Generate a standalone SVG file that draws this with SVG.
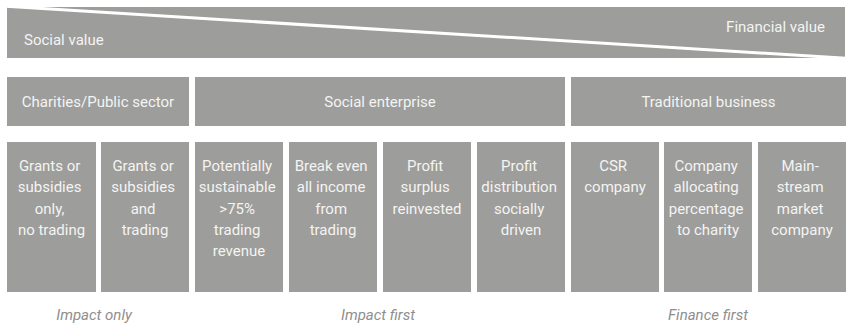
<svg xmlns="http://www.w3.org/2000/svg" width="848" height="326" viewBox="0 0 848 326">
  <style>
    .box { fill: #9d9d9b; }
    .lbl { font-family: Roboto, "Liberation Sans", Arial, sans-serif; font-size: 15px; fill: #f4f4f2; }
    .mid { text-anchor: middle; }
    .cap { font-family: Roboto, "Liberation Sans", Arial, sans-serif; font-size: 15px; font-style: italic; fill: #8e8e8e; text-anchor: middle; }
  </style>

  <!-- value scale: social value tapering into financial value -->
  <g id="value-scale">
    <rect class="box" x="7" y="7" width="838" height="51"/>
    <line x1="6" y1="6.3" x2="846" y2="58.2" stroke="#ffffff" stroke-width="3"/>
    <text class="lbl" x="24" y="45">Social value</text>
    <text class="lbl" x="825" y="32" text-anchor="end">Financial value</text>
  </g>

  <!-- sector headers -->
  <g id="charities-public-sector">
    <rect class="box" x="7" y="77" width="182" height="49"/>
    <text class="lbl mid" x="98" y="106.5">Charities/Public sector</text>
  </g>
  <g id="social-enterprise">
    <rect class="box" x="195" y="77" width="370" height="49"/>
    <text class="lbl mid" x="380" y="106.5">Social enterprise</text>
  </g>
  <g id="traditional-business">
    <rect class="box" x="571" y="77" width="275" height="49"/>
    <text class="lbl mid" x="708.5" y="106.5">Traditional business</text>
  </g>

  <!-- organisation types -->
  <g id="grants-only">
    <rect class="box" x="7" y="142" width="89" height="150"/>
    <text class="lbl mid" x="51.5" y="171">
      <tspan x="51.5">Grants or</tspan>
      <tspan x="51.5" dy="21.3">subsidies</tspan>
      <tspan x="51.5" dy="21.3">only,</tspan>
      <tspan x="51.5" dy="21.3">no trading</tspan>
    </text>
  </g>
  <g id="grants-and-trading">
    <rect class="box" x="101" y="142" width="88" height="150"/>
    <text class="lbl mid" x="145" y="171">
      <tspan x="145">Grants or</tspan>
      <tspan x="145" dy="21.3">subsidies</tspan>
      <tspan x="145" dy="21.3">and</tspan>
      <tspan x="145" dy="21.3">trading</tspan>
    </text>
  </g>
  <g id="potentially-sustainable">
    <rect class="box" x="195" y="142" width="88" height="150"/>
    <text class="lbl mid" x="239" y="171">
      <tspan x="239">Potentially</tspan>
      <tspan x="239" dy="21.3">sustainable</tspan>
      <tspan x="239" dy="21.3">&gt;75%</tspan>
      <tspan x="239" dy="21.3">trading</tspan>
      <tspan x="239" dy="21.3">revenue</tspan>
    </text>
  </g>
  <g id="break-even">
    <rect class="box" x="289" y="142" width="88" height="150"/>
    <text class="lbl mid" x="333" y="171">
      <tspan x="333">Break even</tspan>
      <tspan x="333" dy="21.3">all income</tspan>
      <tspan x="333" dy="21.3">from</tspan>
      <tspan x="333" dy="21.3">trading</tspan>
    </text>
  </g>
  <g id="profit-reinvested">
    <rect class="box" x="383" y="142" width="88" height="150"/>
    <text class="lbl mid" x="427" y="171">
      <tspan x="427">Profit</tspan>
      <tspan x="427" dy="21.3">surplus</tspan>
      <tspan x="427" dy="21.3">reinvested</tspan>
    </text>
  </g>
  <g id="profit-distribution">
    <rect class="box" x="477" y="142" width="88" height="150"/>
    <text class="lbl mid" x="521" y="171">
      <tspan x="521">Profit</tspan>
      <tspan x="521" dy="21.3">distribution</tspan>
      <tspan x="521" dy="21.3">socially</tspan>
      <tspan x="521" dy="21.3">driven</tspan>
    </text>
  </g>
  <g id="csr-company">
    <rect class="box" x="571" y="142" width="88" height="150"/>
    <text class="lbl mid" x="615" y="171">
      <tspan x="615">CSR</tspan>
      <tspan x="615" dy="21.3">company</tspan>
    </text>
  </g>
  <g id="company-allocating">
    <rect class="box" x="664" y="142" width="88" height="150"/>
    <text class="lbl mid" x="708" y="171">
      <tspan x="708">Company</tspan>
      <tspan x="708" dy="21.3">allocating</tspan>
      <tspan x="708" dy="21.3">percentage</tspan>
      <tspan x="708" dy="21.3">to charity</tspan>
    </text>
  </g>
  <g id="mainstream-company">
    <rect class="box" x="758" y="142" width="88" height="150"/>
    <text class="lbl mid" x="802" y="171">
      <tspan x="802">Main-</tspan>
      <tspan x="802" dy="21.3">stream</tspan>
      <tspan x="802" dy="21.3">market</tspan>
      <tspan x="802" dy="21.3">company</tspan>
    </text>
  </g>

  <!-- orientation captions -->
  <g id="captions">
    <text class="cap" x="94" y="319.5">Impact only</text>
    <text class="cap" x="378" y="319.5">Impact first</text>
    <text class="cap" x="708" y="319.5">Finance first</text>
  </g>

  <g id="connectors"/>
</svg>
